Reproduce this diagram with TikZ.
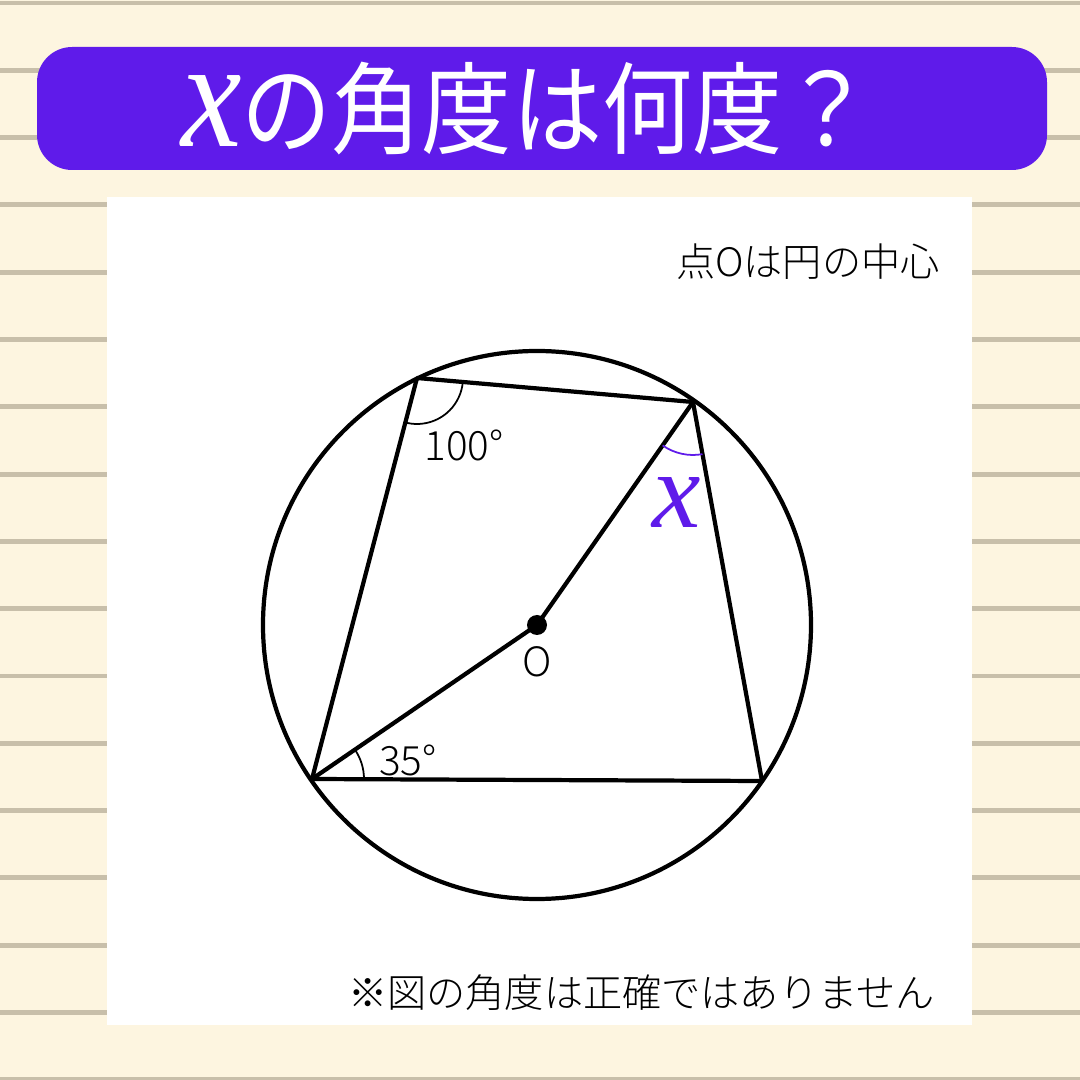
\documentclass[tikz,border=0pt]{standalone}
\usepackage{fontspec}
\usetikzlibrary{angles}
\newfontfamily\jp{Noto Sans CJK JP}
\newfontfamily\jpl{Noto Sans CJK JP Light}
\newfontfamily\xfont{Liberation Serif}
\definecolor{bgcream}{RGB}{253,245,224}
\definecolor{rulegray}{RGB}{200,191,170}
\definecolor{bannerpurple}{RGB}{95,27,234}
\tikzset{
  edge/.style={line width=2.4pt, black, line cap=round, line join=round},
  anglearc/.style={draw, line width=1pt},
  lbl/.style={font=\jpl\fontsize{23}{23}\selectfont, inner sep=0pt},
  note/.style={font=\jpl\fontsize{22.3}{22.3}\selectfont, inner sep=0pt},
}
\begin{document}
\begin{tikzpicture}[x=0.02cm,y=0.02cm]
\useasboundingbox (0,0) rectangle (1080,1080);
\fill[bgcream] (0,0) rectangle (1080,1080);
\foreach \k in {0,...,16}{
  \draw[rulegray, line width=2.8pt] (0,{1077-67.3*\k}) -- (1080,{1077-67.3*\k});
}
\fill[white] (107,55) rectangle (972,883);
\fill[bannerpurple, rounded corners=20pt] (37,910) rectangle (1047,1033);
\node[white, inner sep=0pt] (title) at (527,971) {\scalebox{0.88}[1]{\xfont\itshape\fontsize{88}{88}\selectfont x}\scalebox{0.9}[1]{\jp\fontsize{57}{57}\selectfont の角度は何度？}};

\coordinate (O) at (537,455);
\coordinate (A) at (417,702);
\coordinate (B) at (693,678);
\coordinate (C) at (762,299);
\coordinate (D) at (312,301);

\draw[edge] (O) circle[radius=274];
\draw[edge] (A) -- (B) -- (C) -- (D) -- cycle;
\draw[edge] (D) -- (O) -- (B);
\fill (O) circle[radius=10];

\pic[anglearc, angle radius=0.92cm] {angle = D--A--B};
\pic[anglearc, angle radius=1.04cm] {angle = C--D--O};
\pic[anglearc, draw=bannerpurple, angle radius=1.06cm] {angle = O--B--C};

\node[lbl] (l100) at (464,635) {100°};
\node[lbl] (l35) at (408,320) {35°};
\node[lbl] (lO) at (537,418) {O};
\node[inner sep=0pt, text=bannerpurple] (lx) at (677,577) {\xfont\itshape\fontsize{62}{62}\selectfont x};

\node[note, anchor=east] (n1) at (940,818) {点Oは円の中心};
\node[note, anchor=east] (n2) at (935,87) {※図の角度は正確ではありません};
\end{tikzpicture}
\end{document}
